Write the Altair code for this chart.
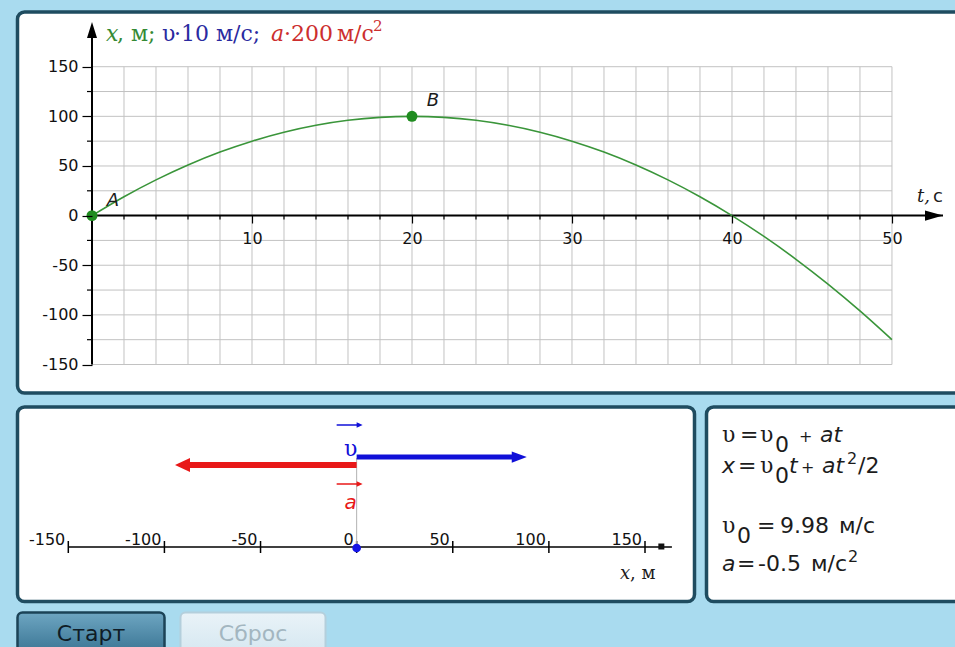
import altair as alt
import pandas as pd

# ---------------- data ----------------
# body coordinate x (m) against time t (s), every 2 s
T = list(range(0, 51, 2))
X = [0, 19, 36, 51, 64, 75, 84, 91, 96, 99, 100, 99, 96, 91, 84, 75,
     64, 51, 36, 19, 0, -21, -44, -69, -96, -125]

POINT_NAMES = ["A", "B"]
POINT_T = [0, 20]
POINT_X = [0, 100]

T_MAJOR = [10, 20, 30, 40, 50]
T_MINOR = [2, 4, 6, 8, 12, 14, 16, 18, 22, 24, 26, 28, 32, 34, 36, 38,
           42, 44, 46, 48]
X_MAJOR = [-150, -100, -50, 0, 50, 100, 150]
X_MINOR = [-125, -75, -25, 25, 75, 125]
GRID_T = list(range(0, 51, 2))
GRID_X = list(range(-150, 151, 25))
T_LAST, X_LO, X_HI = 50, -150, 150
T_END = 53.19   # time axis runs on to its arrow
X_END = 189     # coordinate axis runs on to its arrow

# number line of the lower panel
LINE_TICKS = [-150, -100, -50, 0, 50, 100, 150]
LINE_START, LINE_END, LINE_HEAD = -150, 164, 158.5
BODY_POS = 0
V_TIP = 88.5     # end of the velocity arrow
A_TIP = -94.5    # end of the acceleration arrow
V0 = "9.98"
ACC = "-0.5"

# ---------------- style ----------------
BG = "#a9dbef"
BORDER = "#1f4c60"
GRID = "#c2c2c2"
CURVE = "#3a953a"
DOT = "#1f8c1f"
GREEN_TXT = "#358a35"
BLUE = "#1010d8"
BLUE_TXT = "#2a2aa0"
RED = "#e81818"
RED_TXT = "#cc2e2e"
INK = "#1c1c1c"
SANS = "DejaVu Sans"
SERIF = "DejaVu Serif"

ONE = pd.DataFrame({"k": [0]})


def txt(s, x, y, size=19, color=INK, font=SANS, style="normal",
        align="left", baseline="alphabetic"):
    return alt.Chart(ONE).mark_text(
        text=s, fontSize=size, color=color, font=font, fontStyle=style,
        align=align, baseline=baseline
    ).encode(x=alt.value(x), y=alt.value(y))


def frame(x0, y0, x1, y1, fill="white", stroke=BORDER, width=3.5, r=7):
    return alt.Chart(ONE).mark_rect(
        fill=fill, stroke=stroke, strokeWidth=width, cornerRadius=r
    ).encode(x=alt.value(x0), x2=alt.value(x1), y=alt.value(y0), y2=alt.value(y1))


# ---------------- panels and buttons ----------------
panels = [
    frame(17.5, 12, 962, 393),
    frame(17.5, 407, 694.5, 601.5),
    frame(706.5, 407, 962, 601.5),
]

start_fill = {"gradient": "linear", "x1": 0, "y1": 0, "x2": 0, "y2": 1,
              "stops": [{"offset": 0, "color": "#6ea6c2"},
                        {"offset": 0.5, "color": "#4a84a2"},
                        {"offset": 1, "color": "#2d6582"}]}
reset_fill = {"gradient": "linear", "x1": 0, "y1": 0, "x2": 0, "y2": 1,
              "stops": [{"offset": 0, "color": "#e9f3f8"},
                        {"offset": 1, "color": "#cfe3ee"}]}
buttons = [
    frame(17.5, 612.5, 164.5, 668, fill=start_fill, stroke="#1b4357", width=2.5, r=5),
    frame(180.5, 612.5, 325.5, 668, fill=reset_fill, stroke="#b4cfdc", width=2, r=5),
    txt("Старт", 91, 641, size=22, color="#0f1c26", align="center"),
    txt("Сброс", 253, 641, size=22, color="#a3b6c0", align="center"),
]

# ---------------- x(t) graph ----------------
TS = alt.Scale(domain=[0, T_END], range=[92, 943], nice=False, zero=False)
XS = alt.Scale(domain=[X_LO, X_END], range=[364.5, 28], nice=False, zero=False)
T_AXIS = alt.Axis(orient="bottom", offset=-(647 - 215), values=T_MAJOR,
                  domain=False, grid=False, tickSize=8, tickColor="black",
                  tickWidth=1.2, labelPadding=7, labelFont=SANS,
                  labelFontSize=16, labelColor="#111", labelFlush=False,
                  labelOverlap=False, title=None, zindex=1)
X_AXIS = alt.Axis(orient="left", offset=-92, values=X_MAJOR,
                  domain=False, grid=False, tickSize=10, tickColor="black",
                  tickWidth=1.2, labelPadding=4, labelFont=SANS,
                  labelFontSize=16, labelColor="#111", labelFlush=False,
                  labelOverlap=False, labelExpr="datum.value + ''",
                  title=None, zindex=1)


def tx(field):
    return alt.X(field, type="quantitative", scale=TS, axis=T_AXIS)


def xy(field):
    return alt.Y(field, type="quantitative", scale=XS, axis=X_AXIS)


grid_v = alt.Chart(pd.DataFrame({"t": GRID_T, "lo": X_LO, "hi": X_HI})).mark_rule(
    color=GRID, strokeWidth=1).encode(x=tx("t"), y=xy("lo"), y2="hi")
grid_h = alt.Chart(pd.DataFrame({"x": GRID_X, "lo": 0, "hi": T_LAST})).mark_rule(
    color=GRID, strokeWidth=1).encode(x=tx("lo"), x2="hi", y=xy("x"))

t_line = alt.Chart(pd.DataFrame({"a": [0], "b": [T_END], "x": [0]})).mark_rule(
    color="black", strokeWidth=2).encode(x=tx("a"), x2="b", y=xy("x"))
x_line = alt.Chart(pd.DataFrame({"t": [0], "a": [X_LO], "b": [X_END]})).mark_rule(
    color="black", strokeWidth=2).encode(x=tx("t"), y=xy("a"), y2="b")

t_minor = alt.Chart(pd.DataFrame({"t": T_MINOR, "x": 0})).mark_tick(
    orient="vertical", size=4, thickness=1.2, yOffset=2, color="black",
    opacity=1).encode(x=tx("t"), y=xy("x"))
x_minor = alt.Chart(pd.DataFrame({"t": 0, "x": X_MINOR})).mark_tick(
    orient="horizontal", size=5, thickness=1.2, xOffset=-2.5, color="black",
    opacity=1).encode(x=tx("t"), y=xy("x"))

t_head = alt.Chart(pd.DataFrame({"t": [T_END], "x": [0]})).mark_point(
    shape="M0,0L-2,-0.56L-2,0.56Z", size=324, filled=True, color="black",
    opacity=1).encode(x=tx("t"), y=xy("x"))
x_head = alt.Chart(pd.DataFrame({"t": [0], "x": [X_END]})).mark_point(
    shape="M0,-0.75L-0.625,1.25L0.625,1.25Z", size=256, filled=True,
    color="black", opacity=1).encode(x=tx("t"), y=xy("x"))

curve = alt.Chart(pd.DataFrame({"t": T, "x": X})).mark_line(
    color=CURVE, strokeWidth=1.6, interpolate="monotone").encode(x=tx("t"), y=xy("x"))

pts_df = pd.DataFrame({"t": POINT_T, "x": POINT_X, "name": POINT_NAMES})
pts = alt.Chart(pts_df).mark_circle(size=120, color=DOT, opacity=1).encode(
    x=tx("t"), y=xy("x"))
pt_labels = alt.Chart(pts_df).mark_text(
    dx=21, dy=-15, font=SANS, fontSize=18, fontStyle="italic", color=INK
).encode(x=tx("t"), y=xy("x"), text="name:N")

graph = alt.layer(grid_v, grid_h, t_minor, x_minor, t_line, x_line,
                  t_head, x_head, curve, pts, pt_labels)

H = 22
header = [
    txt("x", 106, 41, size=H, color=GREEN_TXT, font=SERIF, style="italic"),
    txt(", м;", 117, 41, size=H, color=GREEN_TXT, font=SERIF),
    txt("υ", 162, 41, size=H, color=BLUE_TXT, font=SERIF),
    txt("·10", 174, 41, size=H, color=BLUE_TXT, font=SERIF),
    txt("м/с;", 216, 41, size=H, color=BLUE_TXT, font=SERIF),
    txt("a", 271, 41, size=H, color=RED_TXT, font=SERIF, style="italic"),
    txt("·200", 284, 41, size=H, color=RED_TXT, font=SERIF),
    txt("м/с", 337, 41, size=H, color=RED_TXT, font=SERIF),
    txt("2", 373, 31, size=15, color=RED_TXT, font=SERIF),
    txt("t,", 917, 202, size=18, color=INK, font=SERIF, style="italic"),
    txt("с", 933, 202, size=18, color=INK, font=SANS),
]

# ---------------- number line with velocity and acceleration ----------------
NLS = alt.Scale(domain=[-150, 150], range=[68.3, 645], nice=False, zero=False)


def nx(field):
    return alt.X(field, type="quantitative", scale=NLS, axis=None)


ticks_df = pd.DataFrame({"v": LINE_TICKS, "label": [str(v) for v in LINE_TICKS]})
nl_line = alt.Chart(pd.DataFrame({"a": [LINE_START], "b": [LINE_END]})).mark_rule(
    color="black", strokeWidth=1.5).encode(x=nx("a"), x2="b", y=alt.value(547))
nl_head = alt.Chart(pd.DataFrame({"v": [LINE_HEAD]})).mark_square(
    size=36, color="#111", opacity=1).encode(x=nx("v"), y=alt.value(546.5))
nl_ticks = alt.Chart(ticks_df).mark_rule(color="black", strokeWidth=1.5).encode(
    x=nx("v"), y=alt.value(541), y2=alt.value(553))
nl_labels = alt.Chart(ticks_df).mark_text(
    align="right", dx=-3, baseline="alphabetic", font=SANS, fontSize=16,
    color="#111").encode(x=nx("v"), y=alt.value(545), text="label:N")

body_df = pd.DataFrame({"v": [BODY_POS]})
plumb = alt.Chart(body_df).mark_rule(color="#b3b3b3", strokeWidth=1).encode(
    x=nx("v"), y=alt.value(458), y2=alt.value(548))

v_shaft = alt.Chart(pd.DataFrame({"a": [BODY_POS], "b": [V_TIP]})).mark_rule(
    color=BLUE, strokeWidth=5, x2Offset=-12).encode(x=nx("a"), x2="b", y=alt.value(457))
v_head = alt.Chart(pd.DataFrame({"b": [V_TIP]})).mark_point(
    shape="M0,0L-2,-0.75L-2,0.75Z", size=225, filled=True, color=BLUE,
    opacity=1).encode(x=nx("b"), y=alt.value(457))
a_shaft = alt.Chart(pd.DataFrame({"a": [BODY_POS], "b": [A_TIP]})).mark_rule(
    color=RED, strokeWidth=6, x2Offset=12).encode(x=nx("a"), x2="b", y=alt.value(465))
a_head = alt.Chart(pd.DataFrame({"b": [A_TIP]})).mark_point(
    shape="M0,0L2,-0.93L2,0.93Z", size=225, filled=True, color=RED,
    opacity=1).encode(x=nx("b"), y=alt.value(465))

body = alt.Chart(body_df).mark_circle(size=75, color="#1414e6", opacity=1).encode(
    x=nx("v"), y=alt.value(548))


def body_text(s, y, size, color, font=SANS, style="normal"):
    return alt.Chart(body_df).mark_text(
        text=s, dx=-6, fontSize=size, color=color, font=font, fontStyle=style,
        baseline="middle").encode(x=nx("v"), y=alt.value(y))


def vec_sign(y, color):
    # small arrow drawn over a vector's letter
    bar = alt.Chart(body_df).mark_rule(
        color=color, strokeWidth=1.5, xOffset=-20, x2Offset=2).encode(
        x=nx("v"), x2="v:Q", y=alt.value(y))
    tip = alt.Chart(body_df).mark_point(
        shape="M0,0L-2,-0.9L-2,0.9Z", size=36, filled=True, color=color,
        opacity=1, xOffset=6).encode(x=nx("v"), y=alt.value(y))
    return [bar, tip]


vec_labels = [
    *vec_sign(425, BLUE),
    body_text("υ", 449, 22, BLUE, font=SERIF),
    *vec_sign(484, RED),
    body_text("a", 503, 20, RED, style="italic"),
]

numline = alt.layer(nl_line, nl_head, nl_ticks, nl_labels, plumb,
                    v_shaft, v_head, a_shaft, a_head, body, *vec_labels)

axis_name = [
    txt("x", 620, 579, size=18, color=INK, font=SERIF, style="italic"),
    txt(", м", 630, 579, size=18, color=INK, font=SERIF),
]

# ---------------- formulas and parameters ----------------
F = 22
S = 16


def ups(x, y):
    return txt("υ", x, y, F, font=SERIF)


formula = [
    ups(722, 442), txt("=", 740, 442, F), ups(760, 442),
    txt("0", 775, 452, F), txt("+", 799, 442, S), txt("at", 820, 442, F, style="italic"),

    txt("x", 722, 473, F, style="italic"), txt("=", 738, 473, F),
    ups(760, 473), txt("0", 775, 483, F), txt("t", 789, 473, F, style="italic"),
    txt("+", 801, 473, S), txt("at", 822, 473, F, style="italic"),
    txt("2", 847, 464, S), txt("/2", 858, 473, F),

    ups(722, 533), txt("0", 737, 543, F), txt("=", 757, 533, F),
    txt(V0, 780, 533, F), txt("м/с", 839, 533, F),

    txt("a", 722, 571, F, style="italic"), txt("=", 737, 571, F),
    txt(ACC, 758, 571, F), txt("м/с", 811, 571, F), txt("2", 848, 562, S),
]

chart = alt.layer(
    *panels, *buttons, graph, *header, numline, *axis_name, *formula
).resolve_scale(
    x="independent", y="independent"
).resolve_axis(
    x="independent", y="independent"
).properties(
    width=955, height=647, background=BG, padding=0,
    autosize=alt.AutoSizeParams(type="none")
).configure_view(stroke=None)

chart.save("out.html", embed_options={"renderer": "svg", "actions": False})
